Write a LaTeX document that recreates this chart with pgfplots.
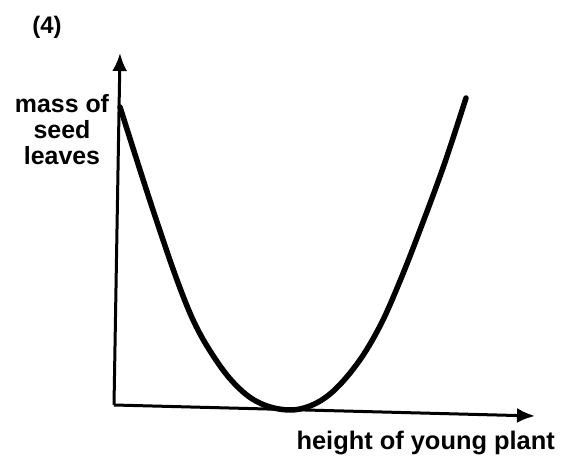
\documentclass[border=0pt]{standalone}
\usepackage{pgfplots}
\pgfplotsset{compat=1.18}
\usepackage{fontspec}
\setmainfont{Liberation Sans}
\usetikzlibrary{arrows.meta}
\begin{document}
\begin{tikzpicture}
\begin{axis}[
  x=1bp, y=1bp,
  xmin=-114, xmax=450, ymin=-51, ymax=408,
  hide axis, clip=false,
]
\path (axis cs:-114,-51) rectangle (axis cs:450,408);
% axes
\addplot[black, line width=3bp, -{Latex[length=18bp,width=15bp]}] coordinates {(0,3) (6,355)};
\addplot[black, line width=3bp, -{Latex[length=18bp,width=15bp]}] coordinates {(0,3) (421,-8)};
% curve
\addplot[black, line width=5.5bp, smooth, tension=0.6, line cap=round] coordinates {
 (6,301) (26,238) (43,186) (63,128) (80,86) (98,54) (118,27) (140,8)
 (165,-1) (190,0) (216,14) (243,44) (266,82) (286,127)
 (306,178) (330,243) (352,310)
};
\node[font=\fontsize{24}{27}\selectfont\bfseries] at (axis cs:-67,381) {(4)};
\node[font=\fontsize{25}{26}\selectfont\bfseries, align=center, inner sep=0pt] at (axis cs:-52,278) {mass of\\seed\\leaves};
\node[font=\fontsize{25.5}{27}\selectfont\bfseries, anchor=base east, inner sep=0pt] at (axis cs:441,-42) {height of young plant};
\end{axis}
\end{tikzpicture}
\end{document}
